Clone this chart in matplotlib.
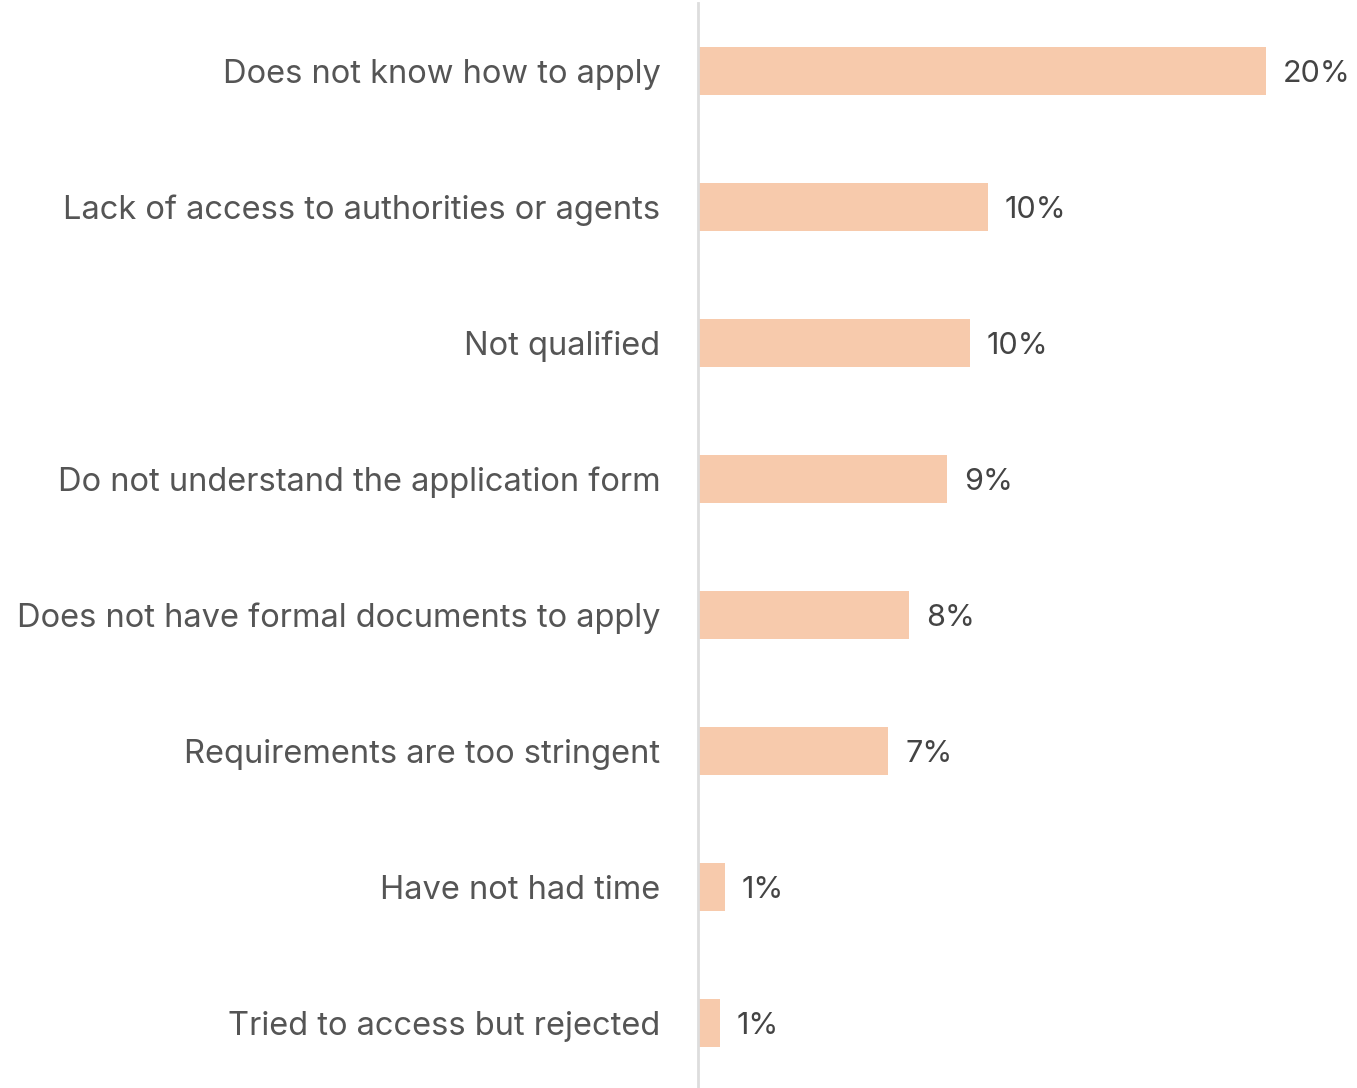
import matplotlib
matplotlib.use('Agg')
import matplotlib.pyplot as plt

# Reasons for not applying, share of respondents (%)
reasons = ['Does not know how to apply',
           'Lack of access to authorities or agents',
           'Not qualified',
           'Do not understand the application form',
           'Does not have formal documents to apply',
           'Requirements are too stringent',
           'Have not had time',
           'Tried to access but rejected']
shares = [20.3, 10.35, 9.7, 8.9, 7.55, 6.8, 0.96, 0.79]

plt.rcParams['font.family'] = ['Inter', 'DejaVu Sans']

fig = plt.figure(figsize=(13.57, 10.88), dpi=100)
ax = fig.add_axes([698/1357, -3/1088, 1 - 698/1357, 1.0])

pos = range(len(reasons))
ax.barh(pos, shares, height=0.353, color='#F7CAAC', zorder=2)
ax.set_ylim(len(reasons) - 0.5, -0.5)
ax.set_xlim(0, 659/28.0)

for y, v in zip(pos, shares):
    ax.text(v + 0.6, y + 0.02, '%.0f%%' % v, va='center', ha='left',
            fontsize=22, color='#444444')

ax.set_yticks(list(pos))
ax.set_yticklabels(reasons, fontsize=23.5, color='#555555')
ax.tick_params(axis='y', length=0, pad=27)
ax.set_xticks([])

for side in ['top', 'right', 'bottom']:
    ax.spines[side].set_visible(False)
ax.spines['left'].set_color('#dddddd')
ax.spines['left'].set_linewidth(2)

fig.savefig('out.png', dpi=100)
